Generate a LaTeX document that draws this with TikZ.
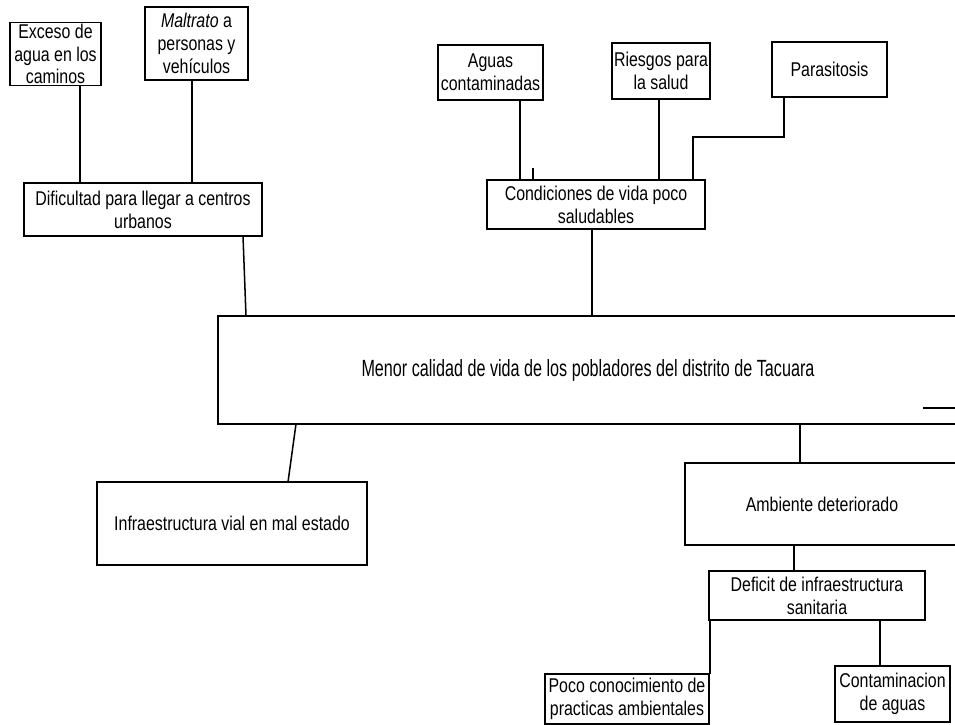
\documentclass[tikz,border=0pt]{standalone}
\usepackage{fontspec}
\setmainfont{Liberation Sans}[FakeStretch=0.8]
\newfontfamily\condfont{Liberation Sans}[FakeStretch=0.69]
\usetikzlibrary{calc}

\begin{document}
\begin{tikzpicture}[x=0.03cm,y=-0.03cm,line width=1.3pt,
    box/.style 2 args={draw, inner sep=1pt, outer sep=0pt, align=center,
      minimum width=#1*0.03cm, minimum height=#2*0.03cm,
      font=\fontsize{17}{19.5}\selectfont}]

  \useasboundingbox (0,0) rectangle (955,724);
  \clip (0,0) rectangle (955,724);

  % causes of the road problem
  \node[box={91}{60}] (exceso) at (55.5,54) {Exceso de\\agua en los\\caminos};
  \node[box={103}{73}] (maltrato) at (196.5,43.5) {\textit{Maltrato} a\\personas y\\veh\'iculos};
  \node[box={238}{53}] (dificultad) at (143,209.5) {Dificultad para llegar a centros\\urbanos};

  % health branch
  \node[box={105}{55}] (aguas) at (490.5,72.5) {Aguas\\contaminadas};
  \node[box={98}{56}] (riesgos) at (661,71) {Riesgos para\\la salud};
  \node[box={115}{55}] (parasitosis) at (829.5,69.5) {Parasitosis};
  \node[box={218}{49}] (condiciones) at (596,204.5) {Condiciones de vida poco\\saludables};

  % central problem
  \node[box={740}{108}, font=\condfont\fontsize{20}{23}\selectfont] (menor) at (588,370)
       {Menor calidad de vida de los pobladores del distrito de Tacuara};

  % lower part
  \node[box={270}{83}] (infra) at (232,523.5) {Infraestructura vial en mal estado};
  \node[box={274}{82}] (ambiente) at (822,504) {Ambiente deteriorado};
  \node[box={216}{49}] (deficit) at (817,595.5) {Deficit de infraestructura\\sanitaria};
  \node[box={164}{50}] (poco) at (627,699) {Poco conocimiento de\\practicas ambientales};
  \node[box={115}{56}] (contam) at (892.5,694) {Contaminacion\\de aguas};

  % connectors
  \draw ($(exceso.south west)+(70,0)$) -- ($(dificultad.north west)+(56,0)$);
  \draw ($(maltrato.south west)+(47,0)$) -- ($(dificultad.north west)+(168,0)$);
  \draw ($(dificultad.south west)+(219,0)$) -- ($(menor.north west)+(28,0)$);

  \draw ($(aguas.south west)+(82,0)$) -- ($(condiciones.north west)+(33,0)$);
  \draw ($(condiciones.north west)+(46,0)$) -- ++(0,-12);
  \draw ($(riesgos.south west)+(47,0)$) -- ($(condiciones.north west)+(172,0)$);
  \draw ($(parasitosis.south west)+(12,0)$) -- ++(0,40) -| ($(condiciones.north west)+(206,0)$);
  \draw ($(condiciones.south west)+(105,0)$) -- ($(menor.north west)+(374,0)$);

  \draw ($(menor.south west)+(78,0)$) -- ($(infra.north west)+(191,0)$);
  \draw ($(menor.south west)+(582,0)$) -- ($(ambiente.north west)+(115,0)$);
  \draw ($(menor.south west)+(705,-16)$) -- ++(40,0);

  \draw ($(ambiente.south west)+(109,0)$) -- ($(deficit.north west)+(85,0)$);
  \draw ($(deficit.south west)+(1,0)$) -- ($(poco.north east)+(1,0)$);
  \draw ($(deficit.south west)+(171,0)$) -- ($(contam.north west)+(45,0)$);

\end{tikzpicture}
\end{document}
